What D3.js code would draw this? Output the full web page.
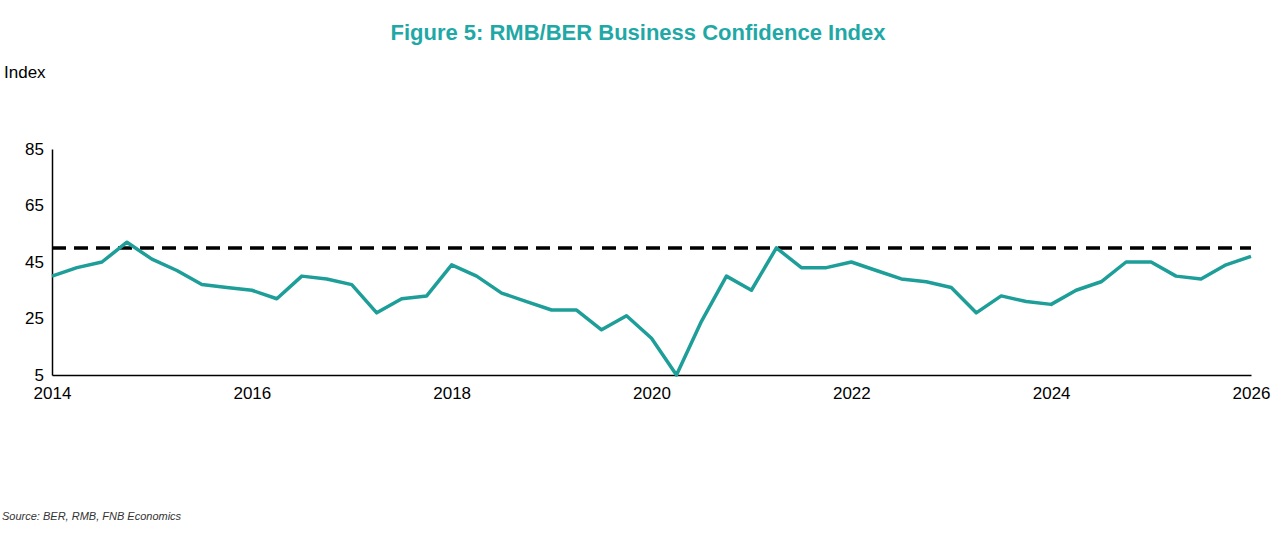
<!DOCTYPE html>
<html><head><meta charset="utf-8">
<script src="https://cdn.jsdelivr.net/npm/d3@7"></script>
<style>body{margin:0;background:#fff;font-family:"Liberation Sans",Arial,sans-serif}</style>
</head><body>
<script>
// quarterly readings, 2014Q1 .. 2026Q1
let startYear = 2014;
let values = [40,43,45,52,46,42,37,36,35,32,40,39,37,27,32,33,44,40,34,31,28,28,21,26,18,5,24,40,35,50,43,43,45,42,39,38,36,27,33,31,30,35,38,45,45,40,39,44,47];
let neutral = 50;
let yTicks = [5,25,45,65,85];
let xTicks = [2014,2016,2018,2020,2022,2024,2026];

let svg = d3.select("body").append("svg").attr("width",1281).attr("height",546);
let x = d3.scaleLinear().domain([2014,2026]).range([52,1251]);
let y = d3.scaleLinear().domain([5,85]).range([375,149]);

svg.append("text").attr("x",638).attr("y",40).attr("text-anchor","middle")
  .style("font-size","22px").style("font-weight","bold").style("fill","#1fa8a6")
  .text("Figure 5: RMB/BER Business Confidence Index");
svg.append("text").attr("x",4).attr("y",78).style("font-size","17px").text("Index");

svg.append("g").attr("transform","translate(52,0)")
  .call(d3.axisLeft(y).tickValues(yTicks).tickSize(0).tickPadding(8))
  .call(g=>g.selectAll("text").style("font-size","17px").style("fill","#000").style("font-family","Liberation Sans, Arial"))
  .call(g=>g.select(".domain").attr("stroke","#000").attr("stroke-width",1.5));
svg.append("g").attr("transform","translate(0,375)")
  .call(d3.axisBottom(x).tickValues(xTicks).tickFormat(d3.format("d")).tickSize(0).tickPadding(12))
  .call(g=>g.selectAll("text").style("font-size","17px").style("fill","#000").style("font-family","Liberation Sans, Arial"))
  .call(g=>g.select(".domain").attr("stroke","#000").attr("stroke-width",1.5));

svg.append("line").attr("x1",x(2014)).attr("x2",x(2026)).attr("y1",y(neutral)).attr("y2",y(neutral))
  .attr("stroke","#000").attr("stroke-width",3.5).attr("stroke-dasharray","14,8");

let line = d3.line().x((d,i)=>x(startYear+i/4)).y(d=>y(d));
svg.append("path").datum(values).attr("d",line).attr("fill","none")
  .attr("stroke","#1d9e98").attr("stroke-width",3.5).attr("stroke-linejoin","round");

svg.append("text").attr("x",2).attr("y",520).style("font-size","11px").style("font-style","italic")
  .style("fill","#333").text("Source: BER, RMB, FNB Economics");
</script>
</body></html>
